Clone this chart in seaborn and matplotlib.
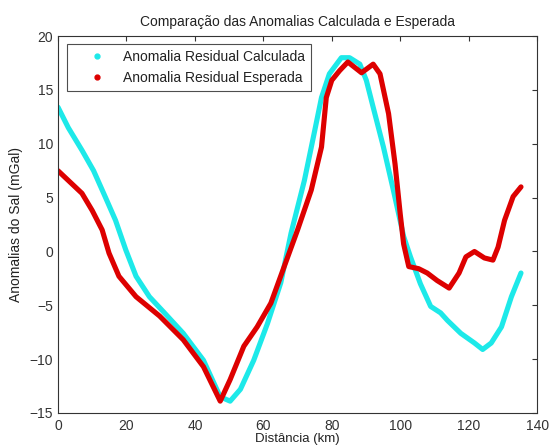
import matplotlib
matplotlib.use("Agg")
import matplotlib.pyplot as plt
from matplotlib.lines import Line2D
import numpy as np
import pandas as pd
import seaborn as sns

# Anomalia residual calculada (km, mGal)
dist_calc = [0, 3, 7, 10.4, 13.9, 16.8, 19.8, 22.8, 26.7, 31.1, 36.6, 42.5, 47.4, 50.3,
             53.3, 57.2, 61.2, 65.1, 68.1, 72, 75, 77, 79.3, 82.8, 85.2, 88.2, 90.1, 92.1,
             95.1, 98, 101, 103, 105.9, 108.9, 111.8, 113.8, 117.7, 121.7, 124.1, 126.6,
             129.6, 132.5, 135.3]
anom_calc = [13.4, 11.5, 9.4, 7.5, 5.0, 2.9, 0.15, -2.3, -4.2, -5.7, -7.6, -10.1, -13.5, -13.9,
             -12.8, -10.1, -6.7, -2.9, 1.7, 6.6, 11.2, 14.3, 16.5, 18.0, 18.0, 17.4, 15.9, 13.4,
             9.7, 5.7, 1.4, -0.5, -3.0, -5.1, -5.7, -6.4, -7.6, -8.5, -9.1, -8.5,
             -7.0, -4.2, -2.0]

# Anomalia residual esperada (km, mGal)
dist_esp = [0, 3, 7, 10, 12.9, 14.9, 17.8, 22.8, 29.7, 36.6, 42.5, 47.4, 50.3, 54.3, 58.2,
            62.2, 66.1, 70, 74, 77, 78.4, 80, 82.3, 84.7, 86.7, 88.7, 92.1, 94.1, 96.6, 98.5,
            100, 101, 102.5, 105.4, 107.9, 110.8, 114.3, 117.2, 119.2, 121.7, 124.6, 127.1,
            128.6, 130.5, 133, 135.3]
anom_esp = [7.5, 6.6, 5.4, 3.8, 2.0, -0.15, -2.3, -4.2, -6.0, -8.2, -10.7, -13.9, -11.9, -8.8, -7.0,
            -4.8, -1.4, 2.0, 5.7, 9.7, 14.3, 15.9, 16.8, 17.6, 17.1, 16.6, 17.4, 16.5, 12.8, 8.1,
            3.5, 0.7, -1.4, -1.6, -2.0, -2.7, -3.4, -2.0, -0.5, 0.0, -0.6, -0.8,
            0.4, 2.9, 5.1, 6.0]

labels = ["Anomalia Residual Calculada", "Anomalia Residual Esperada"]
cores = ["#1de9e9", "#dd0000"]

df = pd.concat([
    pd.DataFrame({"dist": dist_calc, "anom": anom_calc, "serie": labels[0]}),
    pd.DataFrame({"dist": dist_esp, "anom": anom_esp, "serie": labels[1]}),
])

sns.set_style("white")
plt.rcParams["font.family"] = ["Liberation Sans", "DejaVu Sans"]

fig = plt.figure(figsize=(5.5, 4.47), dpi=100)
ax = fig.add_axes([0.1055, 0.0761, 0.871, 0.843])

for nome, cor in zip(labels, cores):
    sub = df[df["serie"] == nome]
    sns.lineplot(x="dist", y="anom", data=sub, ax=ax, color=cor, lw=3.7,
                 sort=False, estimator=None, legend=False,
                 solid_capstyle="round", solid_joinstyle="round")

ax.set_xlim(0, 140)
ax.set_ylim(-15, 20)
ax.set_xticks(np.arange(0, 141, 20))
ax.set_yticks(np.arange(-15, 21, 5))
ax.tick_params(direction="in", length=3.6, width=0.8, top=True, right=True,
               labelsize=10, colors="#333333")
ax.tick_params(axis="x", pad=4)
ax.tick_params(axis="y", pad=3.5)
for s in ax.spines.values():
    s.set_color("#333333")
    s.set_linewidth(0.8)

ax.set_title("Comparação das Anomalias Calculada e Esperada", fontsize=10, pad=7,
             color="#222222")
ax.set_xlabel("Distância (km)", fontsize=9.5, labelpad=0.5, color="#222222")
ax.set_ylabel("Anomalias do Sal (mGal)", fontsize=10, labelpad=5, color="#222222")

handles = [Line2D([], [], ls="none", marker=".", ms=7, color=c) for c in cores]
leg = ax.legend(handles, labels, loc="upper left", bbox_to_anchor=(0.0188, 0.979),
                fontsize=10, frameon=True, fancybox=False, borderaxespad=0,
                handlelength=3.5, handletextpad=0.15, labelspacing=0.55, borderpad=0.4)
leg.get_frame().set_edgecolor("#222222")
leg.get_frame().set_linewidth(0.8)
for t in leg.get_texts():
    t.set_color("#222222")

fig.savefig("out.png", dpi=100)
